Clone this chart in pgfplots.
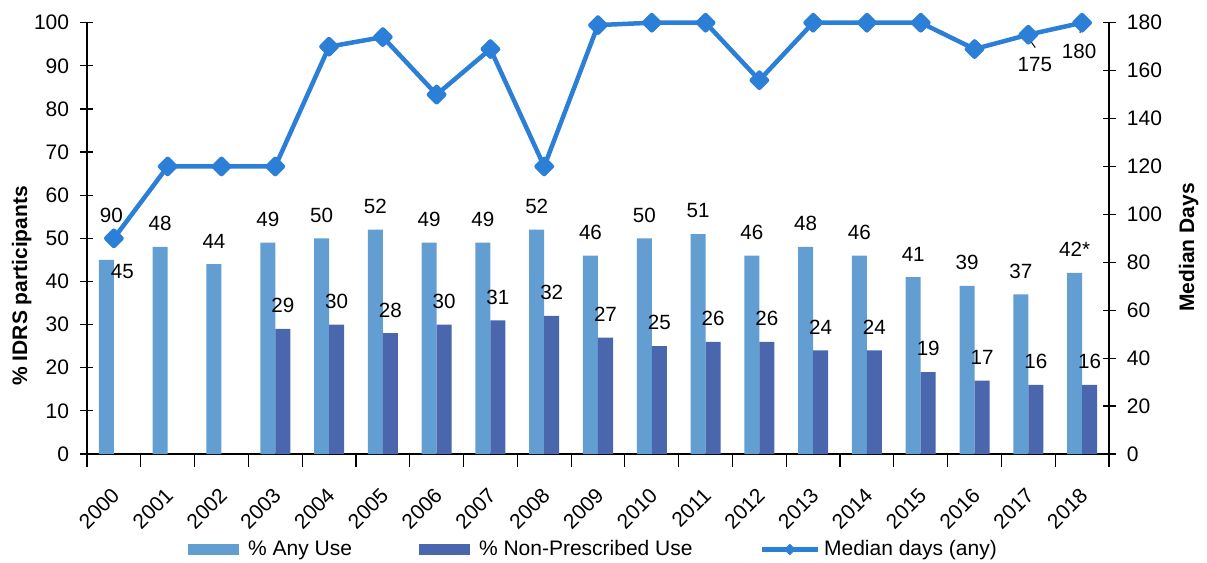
\documentclass[border=0pt]{standalone}
\usepackage{fontspec}
\setmainfont{Liberation Sans}
\usepackage{pgfplots}
\pgfplotsset{compat=1.18}
\usepackage{pgfplotstable}
\definecolor{anyc}{RGB}{98,158,210}
\definecolor{npc}{RGB}{74,102,172}
\definecolor{linec}{RGB}{43,127,214}
\newcommand{\cf}{\fontsize{10.3}{12}\selectfont}
\newcommand{\tf}{\fontsize{10.5}{12}\selectfont}

\pgfplotstableread{
x any lab dx dy
0 45 45 8 -17.3
1 48 48 0 0
2 44 44 0 0
3 49 49 0 0
4 50 50 0 0
5 52 52 0 0
6 49 49 0 0
7 49 49 0 0
8 52 52 0 0
9 46 46 0 0
10 50 50 0 0
11 51 51 0 0
12 46 46 0 0
13 48 48 0 0
14 46 46 0 0
15 41 41 0 0
16 39 39 0 0
17 37 37 0 0
18 42 42* 0 0
}\anyuse

\pgfplotstableread{
x np
3 29
4 30
5 28
6 30
7 31
8 32
9 27
10 25
11 26
12 26
13 24
14 24
15 19
16 17
17 16
18 16
}\nonpres

\pgfplotstableread{
x d
0 90
1 120
2 120
3 120
4 170
5 174
6 150
7 169
8 120
9 179
10 180
11 180
12 156
13 180
14 180
15 180
16 169
17 175
18 180
}\days

\pgfplotstableread{
x d lab dx dy
0 90 90 -1.25 11.35
17 175 175 3.25 -14.85
18 180 180 -1.5 -14.15
}\daylabs

\pgfplotsset{
  anyimg/.style={legend image code/.code={\fill[anyc] (0pt,-2.75pt) rectangle (25.5pt,2.75pt); \path (28pt,0pt);}},
  npimg/.style={legend image code/.code={\fill[npc] (0pt,-2.75pt) rectangle (25.5pt,2.75pt); \path (28pt,0pt);}},
  lineimg/.style={legend image code/.code={\draw[linec, line width=2.25pt] (0pt,0pt) -- (28pt,0pt);
     \fill[linec] (14pt,2.6pt) -- (16.6pt,0pt) -- (14pt,-2.6pt) -- (11.4pt,0pt) -- cycle;}},
}

\begin{document}
\begin{tikzpicture}
\path[use as bounding box] (-43.5pt,-54.5pt) rectangle (560pt,227pt);
\begin{axis}[
  scale only axis, width=511pt, height=215.65pt,
  at={(0pt,0pt)}, anchor=south west,
  xmin=-0.5, xmax=18.5, ymin=0, ymax=100,
  axis x line*=bottom, axis y line*=left,
  axis line style={black, line width=0.6pt},
  tick style={black, line width=0.6pt},
  xtick align=center, ytick align=center, major tick length=6.5pt,
  xtick={-0.5,0.5,...,18.5},
  x tick label as interval,
  xticklabels={2000,2001,2002,2003,2004,2005,2006,2007,2008,2009,2010,2011,2012,2013,2014,2015,2016,2017,2018},
  xticklabel style={rotate=45, anchor=north east, inner sep=0pt, xshift=-8pt, yshift=-5.5pt, font=\tf},
  ytick={0,10,...,100},
  yticklabel style={inner sep=0pt, xshift=-5.5pt, font=\tf},
  /pgf/number format/assume math mode=true,
  ylabel={\bfseries \% IDRS participants},
  ylabel style={at={(axis description cs:-0.064,0.39)}, anchor=center, font=\fontsize{10.5}{12}\selectfont},
  ybar=0pt, bar width=7.5pt,
  clip=false,
  nodes near coords,
  every node near coord/.append style={font=\cf, inner sep=0pt, anchor=south, yshift=7.8pt},
  legend columns=3,
  legend style={draw=none, fill=none, at={(axis description cs:0.4966,-0.2214)}, anchor=center,
    font=\fontsize{10.5}{12}\selectfont,
    /tikz/every even column/.append style={column sep=31.5pt}},
  legend cell align=left,
]
\addplot[fill=anyc, draw=none, point meta=explicit symbolic,
  visualization depends on={\thisrow{dx}\as\dx},
  visualization depends on={\thisrow{dy}\as\dy},
  every node near coord/.append style={xshift=\dx pt, yshift=\dy pt},
  anyimg]
  table[x=x, y=any, meta=lab] {\anyuse};
\addlegendentry{\% Any Use}
\addplot[fill=npc, draw=none, npimg]
  table[x=x, y=np] {\nonpres};
\addlegendentry{\% Non-Prescribed Use}
\addlegendimage{lineimg}
\addlegendentry{Median days (any)}
\end{axis}
\begin{axis}[
  scale only axis, width=511pt, height=215.65pt,
  at={(0pt,0pt)}, anchor=south west,
  xmin=-0.5, xmax=18.5, ymin=0, ymax=180,
  axis x line=none, axis y line*=right,
  axis line style={black, line width=0.6pt},
  tick style={black, line width=0.6pt},
  ytick align=center, major tick length=6.5pt,
  ytick={0,20,...,180},
  yticklabel style={inner sep=0pt, xshift=5.5pt, font=\tf},
  /pgf/number format/assume math mode=true,
  ylabel={\bfseries Median Days},
  ylabel style={at={(axis description cs:1.078,0.479)}, anchor=center, font=\fontsize{10.5}{12}\selectfont},
  clip=false,
]
\addplot[linec, line width=2.25pt, line join=round, mark=square*, mark size=2.7pt, mark options={rotate=45, solid}]
  table[x=x, y=d] {\days};
\addplot[forget plot, draw=none, mark=none, nodes near coords, point meta=explicit symbolic,
  visualization depends on={\thisrow{dx}\as\dx},
  visualization depends on={\thisrow{dy}\as\dy},
  every node near coord/.append style={font=\cf, anchor=center, inner sep=0pt, xshift=\dx pt, yshift=\dy pt}]
  table[x=x, y=d, meta=lab] {\daylabs};
\draw[black, line width=0.5pt] (axis cs:17.0,173.6) -- (axis cs:17.13,169.6);
\draw[black, line width=0.5pt] (axis cs:17.99,178.3) -- (axis cs:17.96,175.8);
\end{axis}
\end{tikzpicture}
\end{document}
